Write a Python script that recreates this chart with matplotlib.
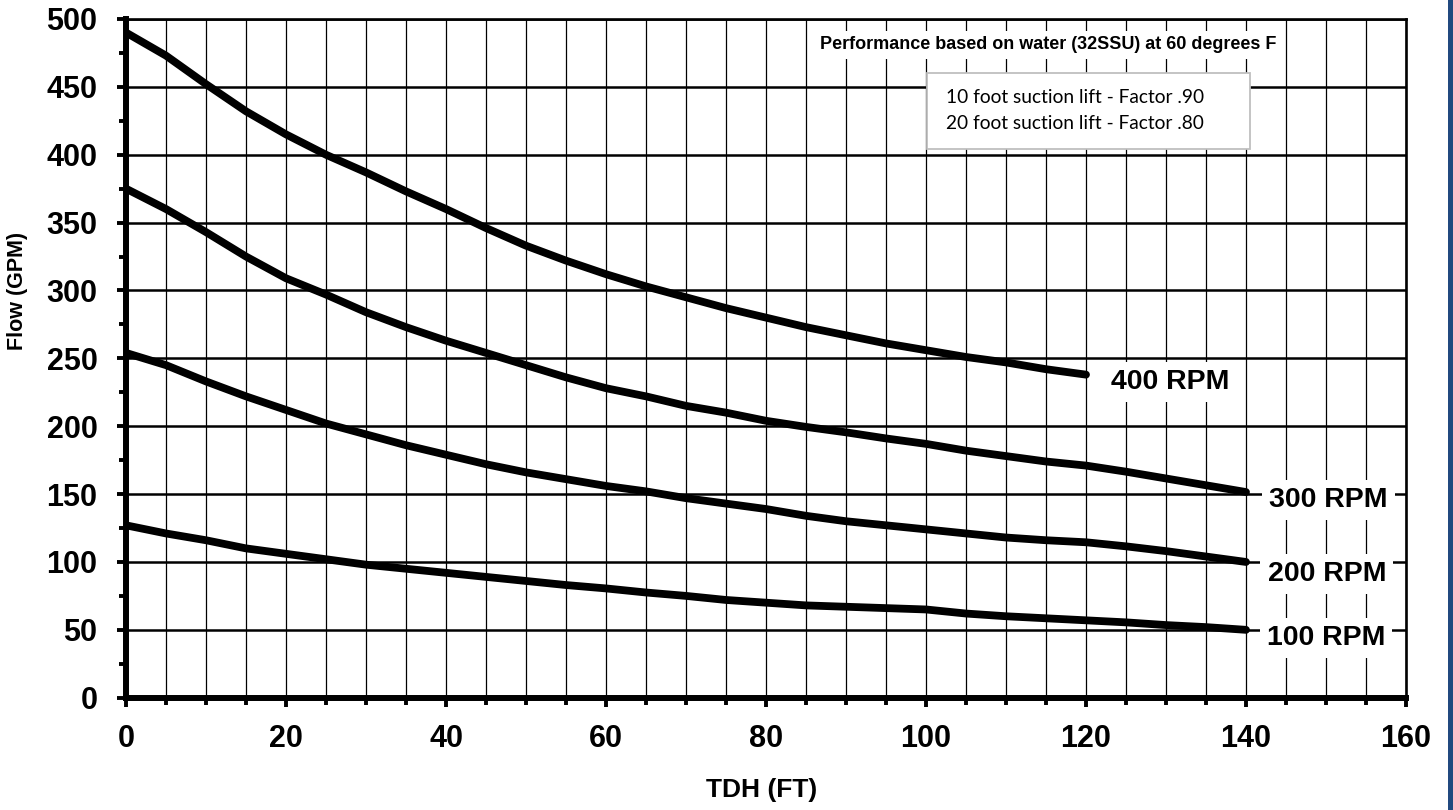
import matplotlib
matplotlib.use("Agg")
import matplotlib.pyplot as plt
from matplotlib.patches import Rectangle
from matplotlib.ticker import MultipleLocator

plt.rcParams['font.family'] = ['Liberation Sans', 'DejaVu Sans']

# ---- data ----
x400 = [0, 5, 10, 15, 20, 25, 30, 35, 40, 45, 50, 55, 60, 65, 70, 75, 80, 85, 90, 95, 100, 105, 110, 115, 120]
y400 = [490, 473, 452, 432, 415, 400, 387, 373, 360, 346, 333, 322, 312, 303, 295, 287, 280, 273, 267, 261, 256, 251, 247, 242, 238]

x_other = [0, 5, 10, 15, 20, 25, 30, 35, 40, 45, 50, 55, 60, 65, 70, 75, 80, 85, 90, 95, 100, 105, 110, 115, 120, 125, 130, 135, 140]
y300 = [375, 360, 343, 325, 309, 297, 284, 273, 263, 254, 245, 236, 228, 222, 215, 210, 204, 199.5, 195.5, 191, 187, 182, 178, 174, 171, 166.5, 161.5, 156.5, 151.5]
y200 = [254, 245, 233, 222, 212, 202, 194, 186, 179, 172, 166, 161, 156, 152, 147, 143, 139, 134, 130, 127, 124, 121, 118, 116, 114.5, 111.5, 108, 104, 100]
y100 = [127, 121, 116, 110, 106, 102, 98, 95, 92, 89, 86, 83, 80.5, 77.5, 75, 72, 70, 68, 67, 66, 65, 62, 60, 58.5, 57, 55.5, 53.5, 52, 50]

curve_labels = ["400 RPM", "300 RPM", "200 RPM", "100 RPM"]
label_x = [130.5, 150.3, 150.1, 150.0]
label_y = [227.7, 140.6, 86.1, 38.9]

x_ticks = [0, 20, 40, 60, 80, 100, 120, 140, 160]
y_ticks = [0, 50, 100, 150, 200, 250, 300, 350, 400, 450, 500]

title_text = "Performance based on water (32SSU) at 60 degrees F"
note_lines = ["10 foot suction lift - Factor .90", "20 foot suction lift - Factor .80"]

# ---- figure ----
W, H = 1453, 810
fig = plt.figure(figsize=(W / 100, H / 100), dpi=100)
fig.patch.set_facecolor('white')
ax = fig.add_axes([126 / W, 1 - 697.7 / H, 1280 / W, 678.7 / H])

ax.set_xlim(0, 160)
ax.set_ylim(0, 500)
ax.set_xticks(x_ticks)
ax.set_yticks(y_ticks)
ax.xaxis.set_minor_locator(MultipleLocator(5))
ax.yaxis.set_minor_locator(MultipleLocator(25))

ax.grid(axis='x', which='both', color='black', lw=0.9, zorder=1)
ax.grid(axis='y', which='major', color='black', lw=1.8, zorder=1)
ax.set_axisbelow(True)

for s in ['left', 'bottom']:
    ax.spines[s].set_linewidth(4.3)
for s in ['top', 'right']:
    ax.spines[s].set_linewidth(1.9)

ax.tick_params(axis='both', which='major', direction='out', length=6.5, width=2.8,
               labelsize=22, pad=14)
ax.tick_params(axis='x', which='major', pad=12.5)
ax.tick_params(axis='both', which='minor', direction='out', length=5, width=2.8)
for lab in ax.get_xticklabels() + ax.get_yticklabels():
    lab.set_fontweight('bold')

lw = 5.6
ax.plot(x400, y400, color='black', lw=lw, solid_capstyle='round', zorder=3)
ax.plot(x_other, y300, color='black', lw=lw, solid_capstyle='round', zorder=3)
ax.plot(x_other, y200, color='black', lw=lw, solid_capstyle='round', zorder=3)
ax.plot(x_other, y100, color='black', lw=lw, solid_capstyle='round', zorder=3)

for t, lx, ly in zip(curve_labels, label_x, label_y):
    ax.text(lx, ly, t, ha='center', va='baseline', fontsize=20.5, fontweight='bold',
            zorder=4, bbox=dict(boxstyle='square,pad=0.25', fc='white', ec='none'))

ax.text(115.3, 477.7, title_text, ha='center', va='baseline', fontsize=13,
        fontweight='bold', zorder=4,
        bbox=dict(boxstyle='square,pad=0.3', fc='white', ec='none'))

# note box
x0 = (927 - 126) / 1280
x1 = (1250 - 126) / 1280
yt = (697.7 - 73) / 678.7
yb = (697.7 - 149) / 678.7
ax.add_patch(Rectangle((x0, yb), x1 - x0, yt - yb, transform=ax.transAxes,
                       fc='white', ec='#BFBFBF', lw=1.3, zorder=5))
tx = (946 - 126) / 1280
for line, by in zip(note_lines, [103, 129.5]):
    ax.text(tx, (697.7 - by) / 678.7, line, transform=ax.transAxes, ha='left',
            va='baseline', fontsize=13.8, family=['Lato', 'DejaVu Sans'], zorder=6)

fig.text(18 / W, 1 - 291 / H, "Flow (GPM)", rotation=90, ha='center', va='center',
         fontsize=15.5, fontweight='bold')
fig.text(762 / W, 1 - 797 / H, "TDH (FT)", ha='center', va='baseline',
         fontsize=19, fontweight='bold')

fig.patches.append(Rectangle((1448 / W, 0), 5 / W, 1, transform=fig.transFigure,
                             fc='#21497F', ec='none', zorder=10))

fig.savefig('out.png', dpi=100)
